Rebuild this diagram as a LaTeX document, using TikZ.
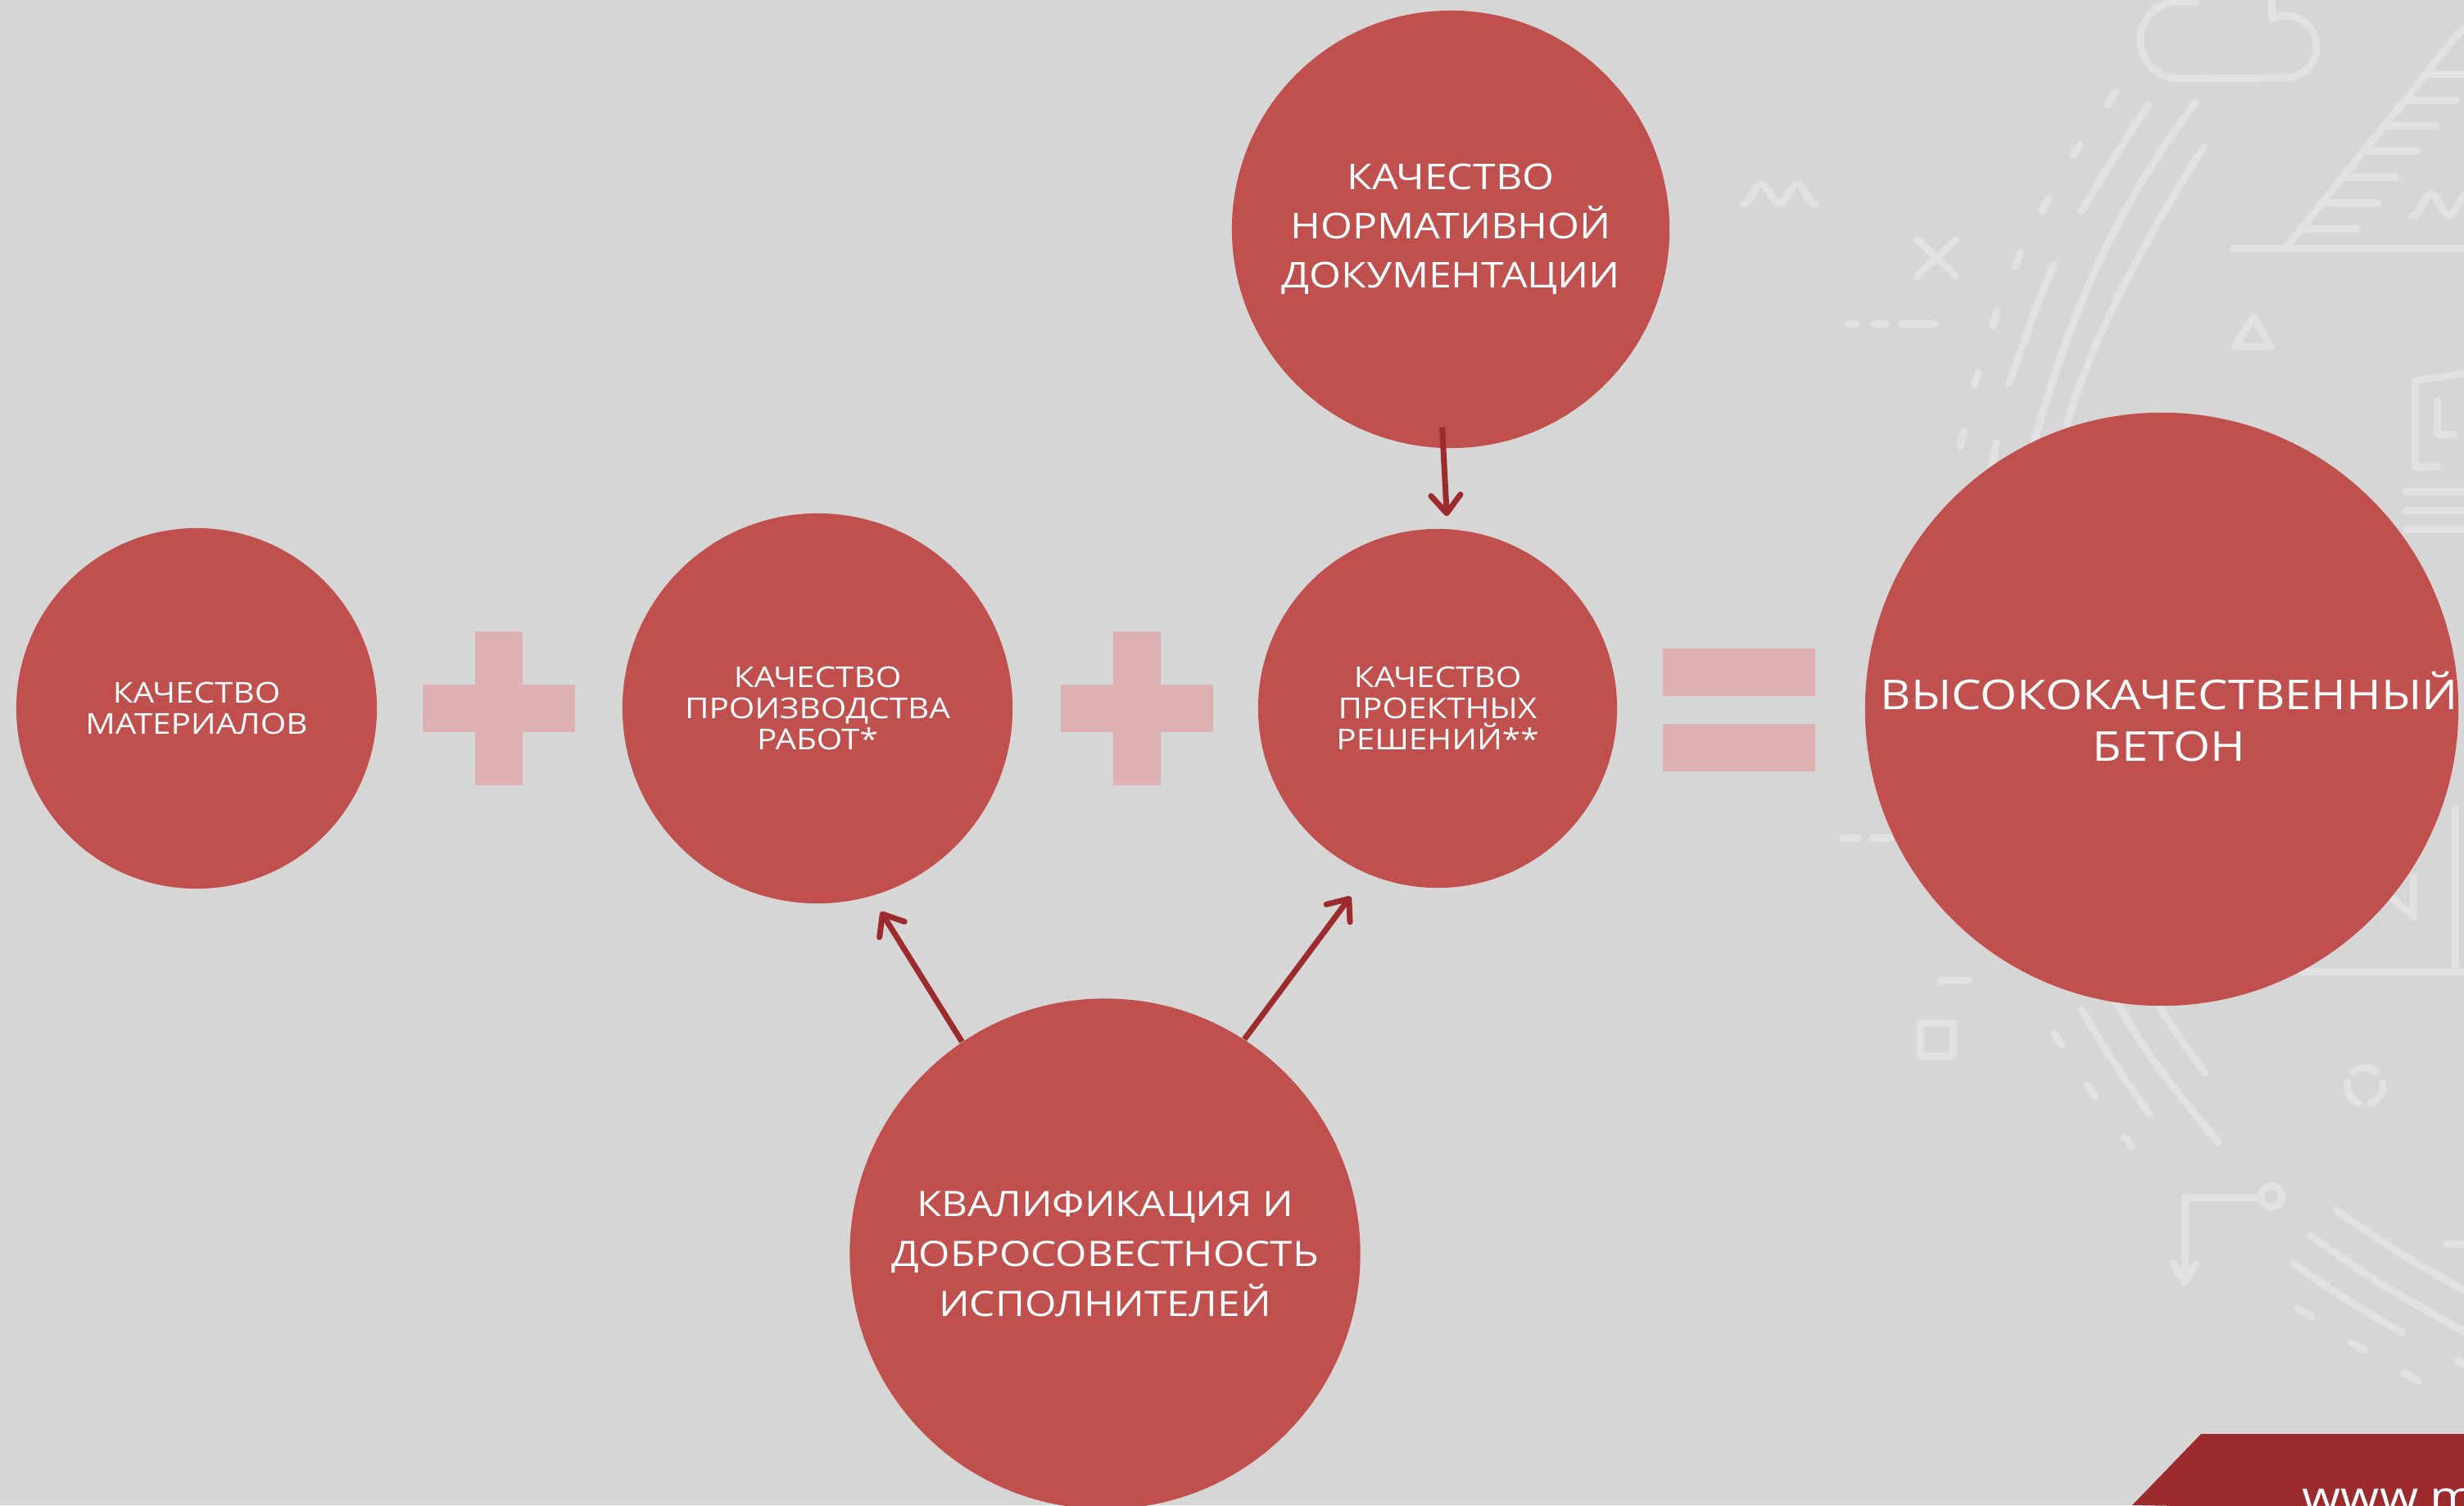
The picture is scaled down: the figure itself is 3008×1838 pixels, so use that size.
\documentclass[tikz,border=0pt]{standalone}
\usepackage{fontspec}
\setmainfont{Open Sans}[FakeStretch=1.15]
\usetikzlibrary{arrows.meta}

\definecolor{bgGray}{RGB}{214,214,214}
\definecolor{lineGray}{RGB}{225,225,225}
\definecolor{bubbleRed}{RGB}{192,80,77}
\definecolor{darkRed}{RGB}{155,43,45}
\definecolor{signPink}{RGB}{221,177,177}

\begin{document}
\begin{tikzpicture}[x=0.01cm,y=0.01cm,
  bubble/.style={circle,fill=bubbleRed,text=white,align=center,inner sep=0pt},
  smallbubble/.style={bubble,font=\fontsize{10}{10.8}\selectfont},
  normbubble/.style={bubble,font=\fontsize{12.35}{17}\selectfont},
  staffbubble/.style={bubble,font=\fontsize{12.2}{17.35}\selectfont},
  resulttext/.style={text=white,align=center,inner sep=0pt,font=\fontsize{14.3}{17.9}\selectfont},
  link/.style={draw=darkRed,line width=0.07cm,-{Straight Barb[length=2.2mm,width=3.6mm,round]}},
  deco/.style={draw=lineGray,line width=0.09cm,line cap=round,line join=round}]
\useasboundingbox (0,0) rectangle (3008,-1838);
\clip (0,0) rectangle (3008,-1838);
\fill[bgGray] (0,0) rectangle (3008,-1838);

% background line art
\draw[deco] (2726,-303) -- (3015,-303);
\draw[deco] (2790,-303) -- (2966,-85) .. controls (2985,-60) and (2996,-44) .. (3015,-30);
\foreach \y/\a/\b in {90/2962/3015,122/2936/2998,153/2911/2973,184/2886/2950,216/2860/2925,247/2835/2902,279/2809/2877}
  \draw[deco] (\a,-\y) -- (\b,-\y);
\draw[deco] (2946,-263) cos (2957,-250) sin (2968,-237) cos (2979,-250) sin (2990,-263) cos (3001,-250) sin (3012,-237);
\draw[deco] (2128,-249) cos (2139,-237) sin (2150,-225) cos (2161,-237) sin (2172,-249) cos (2183,-237) sin (2194,-225) cos (2205,-237) sin (2216,-249);
\draw[deco] (2341,-293) -- (2387,-337) (2341,-337) -- (2387,-293);
\draw[deco] (2257,-395) -- (2266,-395) (2288,-395) -- (2302,-395) (2322,-395) -- (2362,-395);
\draw[deco] (2751,-387) -- (2729,-423) -- (2772,-423) -- cycle;
\draw[deco] (2680,-2) -- (2660,-2) arc (90:270:47) -- (2790,-95) arc (-90:116:38) -- (2773,5);
\draw[deco] (2623,-128) .. controls (2585,-185) .. (2541,-257);
\draw[deco] (2680,-125) .. controls (2590,-245) and (2530,-370) .. (2483,-541);
\draw[deco] (2690,-180) .. controls (2620,-290) and (2555,-410) .. (2523,-518);
\draw[deco] (2507,-323) .. controls (2480,-390) .. (2453,-468);
\draw[deco] (2437,-541) -- (2428,-585);
\foreach \a/\b/\c/\d in {2582/113/2573/128,2539/177/2531/190,2501/242/2493/257,2466/308/2461/325,2438/380/2433/397,2415/455/2410/470,2397/527/2393/545}
  \draw[deco] (\a,-\b) -- (\c,-\d);
\draw[deco] (3015,-455) -- (2948,-465) -- (2948,-570) -- (2975,-570);
\draw[deco] (2975,-490) -- (2975,-530) -- (2995,-530);
\draw[deco] (2938,-600) -- (3015,-600) (2938,-623) -- (3015,-623) (2938,-646) -- (3015,-646);
\draw[deco] (2997,-987) -- (2997,-1180) (2810,-1186) -- (3015,-1186);
\draw[deco] (2919,-1095) -- (2946,-1120) -- (2946,-1072);
\draw[deco] (2250,-1023) -- (2268,-1023) (2286,-1023) -- (2308,-1023);
\draw[deco] (2368,-1197) -- (2404,-1197);
\draw[deco] (2344,-1249) rectangle (2384,-1289);
\draw[deco] (2541,-1233) .. controls (2575,-1290) .. (2624,-1361);
\draw[deco] (2578,-1215) .. controls (2630,-1300) .. (2708,-1395);
\draw[deco] (2628,-1215) .. controls (2655,-1260) .. (2692,-1310);
\draw[deco] (2508,-1262) -- (2517,-1276) (2548,-1325) -- (2557,-1338) (2593,-1389) -- (2603,-1400);
\draw[deco] (2887,-1326) ++(50:22) arc (50:130:22);
\draw[deco] (2887,-1326) ++(170:22) arc (170:250:22);
\draw[deco] (2887,-1326) ++(-70:22) arc (-70:10:22);
\draw[deco] (2773,-1461) circle (13);
\draw[deco] (2759,-1462) -- (2667,-1462) -- (2667,-1565);
\draw[deco] (2653,-1543) -- (2667,-1566) -- (2681,-1543);
\draw[deco] (2852,-1478) .. controls (2920,-1525) .. (3015,-1580);
\draw[deco] (2821,-1509) .. controls (2900,-1565) .. (3015,-1630);
\draw[deco] (2800,-1543) .. controls (2860,-1585) .. (2932,-1627);
\draw[deco] (2805,-1598) -- (2822,-1608) (2870,-1640) -- (2886,-1648) (2935,-1677) -- (2952,-1686);
\draw[deco] (2987,-1519) -- (3015,-1519) (3000,-1661) -- (3015,-1668);

% plus and equals signs
\fill[signPink] (580,-771) rectangle (638,-959);
\fill[signPink] (516,-836) rectangle (702,-894);
\fill[signPink] (1359,-771) rectangle (1417,-959);
\fill[signPink] (1295,-836) rectangle (1481,-894);
\fill[signPink] (2030,-792) rectangle (2216,-850);
\fill[signPink] (2030,-884) rectangle (2216,-942);

\node at (240,-865) (mat) [smallbubble,minimum size=4.4cm] {КАЧЕСТВО\\МАТЕРИАЛОВ};
\node at (998,-865) (work) [smallbubble,minimum size=4.76cm] {КАЧЕСТВО\\ПРОИЗВОДСТВА\\РАБОТ*};
\node at (1755,-865) (proj) [smallbubble,minimum size=4.38cm] {КАЧЕСТВО\\ПРОЕКТНЫХ\\РЕШЕНИЙ**};
\node at (1771,-280) (norm) [normbubble,minimum size=5.34cm] {КАЧЕСТВО\\НОРМАТИВНОЙ\\ДОКУМЕНТАЦИИ};
\node at (2639,-866) (result) [bubble,minimum size=7.24cm] {};
\node at (2648,-875) (resultlabel) [resulttext] {ВЫСОКОКАЧЕСТВЕННЫЙ\\БЕТОН};
\node at (1349,-1531) (staff) [staffbubble,minimum size=6.23cm] {КВАЛИФИКАЦИЯ И\\ДОБРОСОВЕСТНОСТЬ\\ИСПОЛНИТЕЛЕЙ};

\draw[link,shorten <=-0.26cm,shorten >=0.15cm] ([xshift=-0.09cm]norm.south) -- ([xshift=0.12cm]proj.north);
\draw[link,shorten >=0.22cm] (staff.124) -- (work.286);
\draw[link,shorten >=0.34cm] (staff.57) -- (proj.247);

% footer band
\fill[darkRed] (2603,-1838) -- (2687,-1751) -- (3015,-1751) -- (3015,-1845) -- cycle;
\node at (2810,-1846) (url) [anchor=base west,text=white,inner sep=0pt,font=\fontsize{15}{15}\selectfont] {www.m};
\end{tikzpicture}
\end{document}
